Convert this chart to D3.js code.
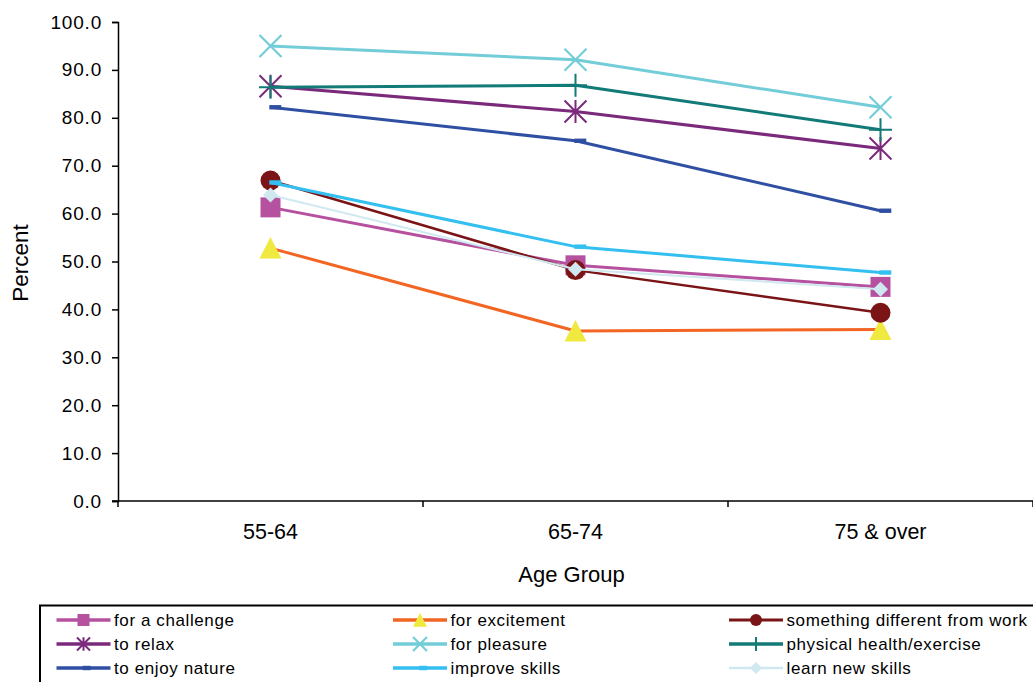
<!DOCTYPE html>
<html>
<head>
<meta charset="utf-8">
<script src="https://cdn.jsdelivr.net/npm/d3@7"></script>
<style>
  html, body { margin: 0; padding: 0; background: #fff; }
  svg { display: block; font-family: "Liberation Sans", Arial, sans-serif; }
</style>
</head>
<body>
<svg id="chart" width="1033" height="682"></svg>
<script>
// ---- data ----
const categories = ["55-64", "65-74", "75 & over"];
const yTicks = [0, 10, 20, 30, 40, 50, 60, 70, 80, 90, 100];
const seriesNames = [
  "for a challenge", "for excitement", "something different from work",
  "to relax", "for pleasure", "physical health/exercise",
  "to enjoy nature", "improve skills", "learn new skills"
];
const forChallenge = [61.3, 49.2, 44.7];
const forExcitement = [52.8, 35.5, 35.8];
const somethingDifferent = [66.9, 48.2, 39.3];
const toRelax = [86.6, 81.3, 73.6];
const forPleasure = [95.0, 92.1, 82.2];
const physicalHealth = [86.4, 86.8, 77.5];
const enjoyNature = [82.2, 75.2, 60.6];
const improveSkills = [66.5, 53.1, 47.7];
const learnNewSkills = [63.9, 48.4, 44.2];

const seriesValues = [forChallenge, forExcitement, somethingDifferent, toRelax,
  forPleasure, physicalHealth, enjoyNature, improveSkills, learnNewSkills];

// ---- styles ----
const styles = [
  { line: "#B5519F", width: 3, marker: "square", fill: "#B5519F" },
  { line: "#F26522", width: 3, marker: "triangle", fill: "#F0E940" },
  { line: "#7B1416", width: 2.5, marker: "circle", fill: "#7B1416" },
  { line: "#7B2A7B", width: 3, marker: "asterisk", fill: "#7B2A7B" },
  { line: "#72CDD8", width: 3, marker: "x", fill: "#72CDD8" },
  { line: "#127A77", width: 3, marker: "plus", fill: "#127A77" },
  { line: "#2F4FA2", width: 3, marker: "dash", fill: "#2F4FA2" },
  { line: "#33BFEF", width: 3, marker: "dash", fill: "#33BFEF" },
  { line: "#D0E9F0", width: 2, marker: "diamond", fill: "#D0E9F0" }
];

const series = seriesNames.map((name, i) => ({
  name, values: seriesValues[i], style: styles[i]
}));

const svg = d3.select("#chart");
const mLeft = 118, mRight = 1033, mTop = 22, mBottom = 501;

const x = d3.scaleBand().domain(categories).range([mLeft, mRight]).padding(0);
const y = d3.scaleLinear().domain([0, 100]).range([mBottom, mTop]);
const cx = c => x(c) + x.bandwidth() / 2;

// ---- axes ----
const yAxis = svg.append("g")
  .attr("transform", `translate(${mLeft},0)`)
  .call(d3.axisLeft(y).tickValues(yTicks).tickFormat(d3.format(".1f")).tickSize(6).tickPadding(10));
yAxis.select(".domain").attr("stroke", "#000").attr("stroke-width", 1.5);
yAxis.selectAll(".tick line").attr("stroke", "#000").attr("stroke-width", 1.5);
yAxis.selectAll(".tick text")
  .attr("fill", "#000")
  .style("font-size", "19px")
  .style("letter-spacing", "0.8px")
  .style("font-family", "'Liberation Sans', Arial, sans-serif");

const xAxis = svg.append("g")
  .attr("transform", `translate(0,${mBottom})`)
  .call(d3.axisBottom(x).tickSize(0).tickPadding(23));
xAxis.select(".domain").attr("stroke", "#000").attr("stroke-width", 1.5).attr("d", `M${mLeft - 6},0H${mRight + 5}`);
xAxis.selectAll(".tick text")
  .attr("fill", "#000")
  .style("font-size", "21.5px")
  .style("font-family", "'Liberation Sans', Arial, sans-serif");
// category boundary ticks
const boundaries = categories.map(c => x(c)).concat([x(categories[categories.length - 1]) + x.bandwidth()]);
xAxis.selectAll(".bound").data(boundaries).enter().append("line")
  .attr("class", "bound")
  .attr("x1", d => d).attr("x2", d => d)
  .attr("y1", 0).attr("y2", 6)
  .attr("stroke", "#000").attr("stroke-width", 1.5);

// axis titles
svg.append("text")
  .attr("x", (mLeft + mRight) / 2 - 4).attr("y", 582)
  .attr("text-anchor", "middle")
  .style("font-size", "22px")
  .text("Age Group");
svg.append("text")
  .attr("transform", `translate(28,263) rotate(-90)`)
  .attr("text-anchor", "middle")
  .style("font-size", "22.5px")
  .text("Percent");

// ---- markers ----
function drawMarker(g, type, color, s) {
  const h = s / 2;
  switch (type) {
    case "square":
      g.append("rect").attr("x", -h).attr("y", -h).attr("width", s).attr("height", s).attr("fill", color);
      break;
    case "triangle":
      g.append("path").attr("d", `M0,${-h * 1.0}L${h},${h * 0.95}L${-h},${h * 0.95}Z`).attr("fill", color);
      break;
    case "circle":
      g.append("circle").attr("r", h).attr("fill", color);
      break;
    case "asterisk":
      g.append("path").attr("d", `M${-h},${-h}L${h},${h}M${-h},${h}L${h},${-h}M0,${-h * 1.05}V${h * 1.05}`)
        .attr("stroke", color).attr("stroke-width", 2).attr("fill", "none");
      break;
    case "x":
      g.append("path").attr("d", `M${-h},${-h}L${h},${h}M${-h},${h}L${h},${-h}`)
        .attr("stroke", color).attr("stroke-width", 2.2).attr("fill", "none");
      break;
    case "plus":
      g.append("path").attr("d", `M${-h},0H${h}M0,${-h}V${h}`)
        .attr("stroke", color).attr("stroke-width", 2).attr("fill", "none");
      break;
    case "dash":
      g.append("rect").attr("x", -s * 0.1).attr("y", -2.2).attr("width", s).attr("height", 4.4).attr("fill", color);
      break;
    case "diamond":
      g.append("path").attr("d", `M0,${-h}L${h},0L0,${h}L${-h},0Z`).attr("fill", color);
      break;
  }
}
const markerSize = { square: 20, triangle: 22, circle: 20, asterisk: 22, x: 22, plus: 23, dash: 12, diamond: 15 };
const legendMarkerSize = { square: 12, triangle: 14, circle: 12, asterisk: 13, x: 14, plus: 14, dash: 8, diamond: 12 };

// ---- lines & markers ----
const line = d3.line().x((d, i) => cx(categories[i])).y(d => y(d));
const plot = svg.append("g");
series.forEach(s => {
  const g = plot.append("g");
  g.append("path")
    .attr("d", line(s.values))
    .attr("fill", "none")
    .attr("stroke", s.style.line)
    .attr("stroke-width", s.style.width)
    .attr("stroke-linejoin", "round");
  s.values.forEach((v, i) => {
    const mg = g.append("g").attr("transform", `translate(${cx(categories[i])},${y(v)})`);
    drawMarker(mg, s.style.marker, s.style.fill, markerSize[s.style.marker]);
  });
});

// ---- legend ----
const legendCols = [56.5, 393, 729];
const legendRows = [620, 644, 668];
svg.append("rect")
  .attr("x", 40).attr("y", 605.5).attr("width", 1010).attr("height", 100)
  .attr("fill", "#fff").attr("stroke", "#000").attr("stroke-width", 2);
series.forEach((s, i) => {
  const lx = legendCols[i % 3], ly = legendRows[Math.floor(i / 3)];
  const g = svg.append("g").attr("transform", `translate(${lx},${ly})`);
  g.append("line").attr("x1", 0).attr("x2", 54).attr("y1", 0).attr("y2", 0)
    .attr("stroke", s.style.line).attr("stroke-width", s.style.width + 0.5);
  const mg = g.append("g").attr("transform", "translate(27,0)");
  drawMarker(mg, s.style.marker, s.style.fill, legendMarkerSize[s.style.marker]);
  g.append("text").attr("x", 57.5).attr("y", 0).attr("dy", "0.35em")
    .style("font-size", "17px")
    .style("letter-spacing", "0.6px")
    .text(s.name);
});
</script>
</body>
</html>
